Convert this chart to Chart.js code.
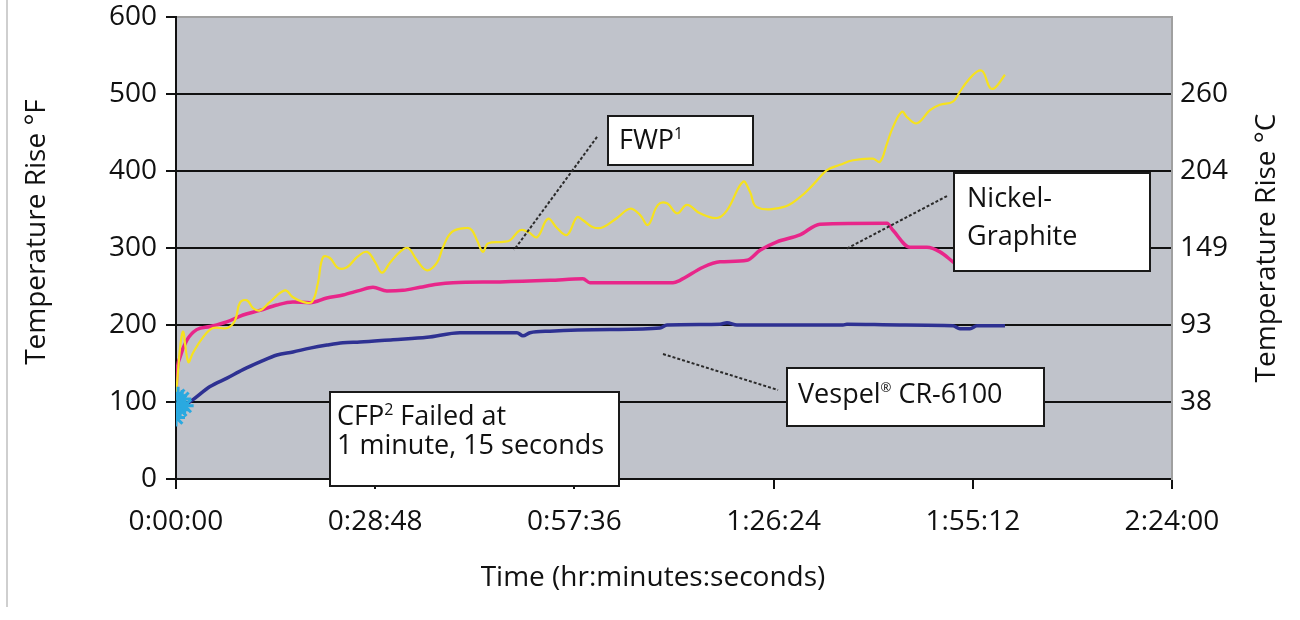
<!DOCTYPE html>
<html><head><meta charset="utf-8">
<script src="https://cdn.jsdelivr.net/npm/chart.js@4/dist/chart.umd.min.js"></script>
<style>
html,body{margin:0;padding:0;background:#fff;}
#wrap{position:relative;width:1300px;height:620px;}
canvas{display:block;}
</style></head><body>
<div id="wrap"><canvas id="c" width="1300" height="620"></canvas></div>
<script>
// ---- data (time in minutes, temperature rise in °F) ----
const xTickValues = [0, 28.8, 57.6, 86.4, 115.2, 144];
const xTickLabels = ['0:00:00','0:28:48','0:57:36','1:26:24','1:55:12','2:24:00'];
const yTickValues = [0,100,200,300,400,500,600];
const rightTickValues = [100,200,300,400,500];
const rightTickLabels = ['38','93','149','204','260'];

const fwpTime = [0,0.97,1.78,2.46,3.9,5.35,7.37,8.53,9.25,10.26,11.13,12.14,13.59,15.76,16.91,18.36,19.66,20.53,21.25,22.26,23.42,24.72,26.17,27.61,28.77,29.78,30.94,32.38,33.54,34.84,36.29,37.73,38.6,39.9,42.07,42.79,43.52,44.38,45.11,47.28,48.29,49.73,50.89,52.19,53.78,55.08,56.53,57.97,58.84,60.29,61.73,63.76,65.64,67.08,68.24,69.68,70.99,72.43,73.88,75.76,78.21,79.66,81.97,82.98,83.99,87.75,90.21,92.09,94.12,96.0,97.88,100.77,101.78,102.8,103.66,104.96,105.68,107.13,109.01,110.45,112.33,113.34,114.36,115.8,116.67,117.68,118.4,119.85];
const fwpTemp = [110,191,152,164,184,196,196,206,229,232,222,219,230,245,236,230,230,255,288,287,274,275,288,295,282,268,281,295,300,284,271,281,301,321,326,323,310,295,306,308,310,323,321,314,338,326,317,340,336,327,327,339,351,343,330,356,358,345,356,345,339,349,386,373,353,353,366,382,401,408,414,416,412,436,457,477,470,462,479,486,490,503,516,529,529,508,508,525];

const nickelTime = [0,0.1,0.58,1.55,2.99,4.92,7.33,9.69,12.14,14.56,16.91,19.37,21.79,24.14,26.6,28.48,30.5,32.82,35.28,37.73,40.05,46.84,54.07,58.84,59.85,71.85,72.86,76.19,78.65,82.55,84.43,86.89,90.21,93.1,102.79,103.66,106.12,108.57,110.45,112.33,113.06];
const nickelTemp = [106,133,158,180,194,198,204,213,219,226,230,229,235,239,245,249,244,245,249,253,255,256,258,260,255,255,258,275,282,284,297,308,317,331,332,323,301,301,295,282,277];

const vespelTime = [0,1.01,2.46,4.92,7.37,9.69,12.14,14.6,16.91,19.37,21.83,24.14,26.6,31.37,36.29,41.06,46.84,49.3,50.17,51.18,54.07,62.74,69.97,70.99,78.65,79.66,81.1,96.43,97.0,104.67,112.33,113.34,114.79,115.8,119.85];
const vespelTemp = [83,94,103,120,131,142,152,161,165,170,174,177,178,181,184,190,190,190,186,190,192,194,196,200,201,203,200,200,201,200,199,195,195,199,199];

const cfpTime = [0,0.3,0.6,0.9,1.25];
const cfpTemp = [80,108,90,104,95];

const seriesNames = ['FWP', 'Nickel-Graphite', 'Vespel CR-6100', 'CFP'];

function pts(t, v){ return t.map((x,i)=>({x:x, y:v[i]})); }

// ---- annotation callouts (box & leader in data coords, text offsets in px) ----
const callouts = [
  {box:[62.46,471.4,83.42,407.8], leader:[[60.87,444.2],[48.87,297.4]],
   lines:[{dx:11,dy:33,parts:[['FWP',27,0],['1',16,-10]]}]},
  {box:[112.48,397.4,140.82,270.1], leader:[[111.47,367.5],[96.87,298.7]],
   lines:[{dx:13,dy:34,parts:[['Nickel-',27,0]]},{dx:13,dy:72,parts:[['Graphite',27,0]]}]},
  {box:[88.34,144.2,125.49,68.8], leader:[[70.41,162.3],[87.04,115.6]],
   lines:[{dx:11,dy:35,parts:[['Vespel',27,0],['®',13,-11],[' CR-6100',27,0]]}]},
  {box:[22.26,113,64.05,-9], leader:null,
   lines:[{dx:7,dy:33,parts:[['CFP',27,0],['2',16,-10],[' Failed at',27,0]]},{dx:7,dy:62,parts:[['1 minute, 15 seconds',27,0]]}]}
];

const FONT = '"Open Sans", "Noto Sans", sans-serif';

function drawParts(ctx, parts, x, y){
  let cx = x;
  for (const [t,size,dy] of parts){
    ctx.font = size + 'px ' + FONT;
    ctx.fillText(t, cx, y+dy);
    cx += ctx.measureText(t).width;
  }
}

const deco = {
  id:'deco',
  beforeDraw(chart){
    const {ctx, chartArea:a} = chart;
    ctx.save();
    ctx.fillStyle = '#c0c3cb';
    ctx.fillRect(a.left, a.top, a.right-a.left, a.bottom-a.top);
    ctx.strokeStyle = '#cfcfcf';
    ctx.lineWidth = 2;
    ctx.beginPath(); ctx.moveTo(7,0); ctx.lineTo(7,607); ctx.stroke();
    ctx.restore();
  },
  afterDatasetsDraw(chart){
    const {ctx} = chart;
    const xs = chart.scales.x, ys = chart.scales.y;
    ctx.save();
    for (const c of callouts){
      if (c.leader){
        ctx.strokeStyle = '#2a2a2a';
        ctx.lineWidth = 2;
        ctx.setLineDash([3,2]);
        ctx.beginPath();
        ctx.moveTo(xs.getPixelForValue(c.leader[0][0]), ys.getPixelForValue(c.leader[0][1]));
        ctx.lineTo(xs.getPixelForValue(c.leader[1][0]), ys.getPixelForValue(c.leader[1][1]));
        ctx.stroke();
        ctx.setLineDash([]);
      }
      const x0 = Math.round(xs.getPixelForValue(c.box[0])), y0 = Math.round(ys.getPixelForValue(c.box[1]));
      const x1 = Math.round(xs.getPixelForValue(c.box[2])), y1 = Math.round(ys.getPixelForValue(c.box[3]));
      ctx.fillStyle = '#ffffff';
      ctx.fillRect(x0, y0, x1-x0, y1-y0);
      ctx.strokeStyle = '#1a1a1a';
      ctx.lineWidth = 2;
      ctx.strokeRect(x0, y0, x1-x0, y1-y0);
      ctx.fillStyle = '#111';
      ctx.textBaseline = 'alphabetic';
      ctx.textAlign = 'left';
      for (const ln of c.lines) drawParts(ctx, ln.parts, x0+ln.dx, y0+ln.dy);
    }
    ctx.restore();
  },
  afterDraw(chart){
    const {ctx} = chart;
    ctx.save();
    ctx.fillStyle = '#111';
    ctx.font = '500 28px ' + FONT;
    ctx.textAlign = 'center';
    ctx.textBaseline = 'middle';
    ctx.save(); ctx.translate(37, 232); ctx.rotate(-Math.PI/2); ctx.fillText('Temperature Rise °F', 0, 0); ctx.restore();
    ctx.save(); ctx.translate(1267, 248); ctx.rotate(-Math.PI/2); ctx.fillText('Temperature Rise °C', 0, 0); ctx.restore();
    ctx.textBaseline = 'alphabetic';
    ctx.fillText('Time (hr:minutes:seconds)', 653, 586);
    ctx.restore();
  }
};

Chart.defaults.font.family = FONT;
Chart.defaults.color = '#111';

function noPadV(s, w){ s.width = w; s.paddingTop = 0; s.paddingBottom = 0; }

new Chart(document.getElementById('c'), {
  type:'line',
  data:{
    datasets:[
      {label:seriesNames[3], data:pts(cfpTime,cfpTemp), borderColor:'#2aa9e0', backgroundColor:'#2aa9e0', borderWidth:2,
       pointStyle:'star', pointRadius:9, pointBorderWidth:3, pointBorderColor:'#2aa9e0', showLine:true, order:0},
      {label:seriesNames[0], data:pts(fwpTime,fwpTemp), borderColor:'#f6e21e', borderWidth:2.2, pointRadius:0, tension:0.4, order:1},
      {label:seriesNames[1], data:pts(nickelTime,nickelTemp), borderColor:'#e8268a', borderWidth:3.5, pointRadius:0, cubicInterpolationMode:'monotone', order:2},
      {label:seriesNames[2], data:pts(vespelTime,vespelTemp), borderColor:'#2e3192', borderWidth:3.5, pointRadius:0, cubicInterpolationMode:'monotone', order:3}
    ]
  },
  options:{
    responsive:false, animation:false, devicePixelRatio:1,
    layout:{padding:{top:17,left:0,right:0,bottom:0}},
    plugins:{legend:{display:false}, tooltip:{enabled:false}},
    scales:{
      x:{type:'linear', min:0, max:144,
        afterBuildTicks:(s)=>{ s.ticks = xTickValues.map(v=>({value:v})); },
        afterFit:(s)=>{ s.height = 141; s.paddingLeft = 0; s.paddingRight = 0; },
        ticks:{font:{size:28}, color:'#111', padding:16, maxRotation:0, autoSkip:false,
          callback:(v,i)=>xTickLabels[i]},
        grid:{drawOnChartArea:false, drawTicks:true, tickLength:10, color:'#111', lineWidth:2},
        border:{display:true, color:'#111', width:2}
      },
      y:{type:'linear', min:0, max:600, position:'left',
        afterBuildTicks:(s)=>{ s.ticks = yTickValues.map(v=>({value:v})); },
        afterFit:(s)=>noPadV(s,176),
        ticks:{font:{size:28}, color:'#111', padding:9},
        grid:{color:(c)=> (c.tick && c.tick.value===600) ? '#a0a0a0' : '#111', tickColor:'#111', lineWidth:2, tickLength:10},
        border:{display:true, color:'#111', width:2}
      },
      y2:{type:'linear', min:0, max:600, position:'right',
        afterBuildTicks:(s)=>{ s.ticks = rightTickValues.map(v=>({value:v})); },
        afterFit:(s)=>noPadV(s,128),
        ticks:{font:{size:28}, color:'#111', padding:8, callback:(v,i)=>rightTickLabels[i]},
        grid:{display:false, drawTicks:false},
        border:{display:true, color:'#a0a0a0', width:2}
      }
    }
  },
  plugins:[deco]
});
</script>
</body></html>
